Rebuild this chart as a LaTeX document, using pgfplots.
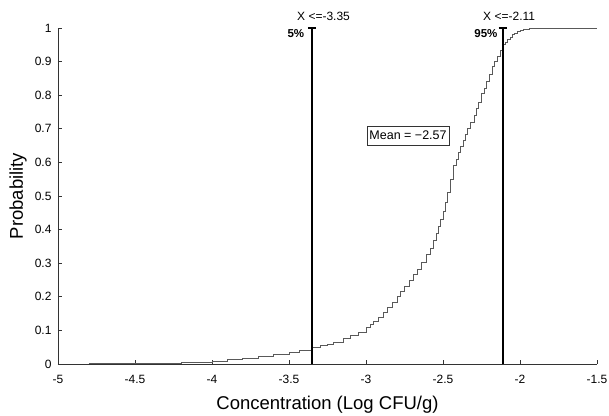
\documentclass[border=0pt]{standalone}
\usepackage{fontspec}
\setmainfont{Liberation Sans}
\usepackage{pgfplots}
\pgfplotsset{compat=1.18}
\begin{document}
\begin{tikzpicture}
\useasboundingbox (-58bp,-52bp) rectangle (551bp,364bp);
\begin{axis}[
  at={(0,0)}, anchor=south west,
  scale only axis, width=539bp, height=336bp,
  xmin=-5, xmax=-1.5, ymin=0, ymax=1,
  axis lines=left, axis line style={-, black!80, line width=0.8bp},
  tick align=inside, major tick length=4bp,
  tick style={black!80, line width=0.6bp},
  xtick={-5,-4.5,...,-1.5}, ytick={0,0.1,...,1},
  /pgf/number format/assume math mode=true,
  /pgf/number format/fixed,
  ticklabel style={font=\fontsize{12bp}{14bp}\selectfont},
  xticklabel style={yshift=-8bp},
  yticklabel style={xshift=-3bp},
  xlabel={Concentration (Log CFU/g)},
  ylabel={Probability},
  label style={font=\fontsize{18.5bp}{21bp}\selectfont},
  xlabel style={at={(axis description cs:0.5,-0.122)}, anchor=center},
  ylabel style={at={(axis description cs:-0.074,0.5)}, anchor=center, rotate=0},
  clip=false,
]
\addplot[const plot, black!65, line width=0.6bp] coordinates {
(-4.8,0.001) (-4.6,0.002) (-4.4,0.003) (-4.2,0.005) (-4.0,0.009)
(-3.9,0.013) (-3.8,0.018) (-3.7,0.024) (-3.6,0.029) (-3.5,0.036)
(-3.43,0.042) (-3.35,0.050) (-3.3,0.055) (-3.25,0.060) (-3.21,0.066)
(-3.15,0.075) (-3.1,0.085) (-3.05,0.095) (-3.0,0.108) (-2.97,0.118)
(-2.95,0.128) (-2.92,0.140) (-2.89,0.155) (-2.86,0.170) (-2.83,0.185)
(-2.80,0.200) (-2.78,0.215) (-2.75,0.232) (-2.72,0.250) (-2.69,0.266)
(-2.67,0.282) (-2.64,0.302) (-2.61,0.325) (-2.585,0.345) (-2.56,0.368)
(-2.545,0.388) (-2.53,0.41) (-2.515,0.432) (-2.50,0.455) (-2.485,0.48)
(-2.47,0.51) (-2.45,0.55) (-2.43,0.59) (-2.415,0.61) (-2.40,0.63)
(-2.385,0.648) (-2.37,0.665) (-2.355,0.683) (-2.34,0.70) (-2.32,0.72)
(-2.30,0.74) (-2.285,0.76) (-2.27,0.78) (-2.25,0.805) (-2.235,0.822)
(-2.22,0.84) (-2.20,0.862) (-2.18,0.885) (-2.165,0.90) (-2.15,0.915)
(-2.13,0.935) (-2.11,0.95) (-2.095,0.958) (-2.08,0.965) (-2.065,0.973)
(-2.05,0.98) (-2.035,0.985) (-2.02,0.99) (-2.0,0.994) (-1.98,0.997)
(-1.94,1.0) (-1.5,1.0)
};
\addplot[black, line width=2.8bp] coordinates {(-3.35,0) (-3.35,1)};
\addplot[black, line width=1.6bp] coordinates {(-3.378,1) (-3.322,1)};
\addplot[black, line width=2.8bp] coordinates {(-2.11,0) (-2.11,1)};
\addplot[black, line width=1.6bp] coordinates {(-2.138,1) (-2.082,1)};
\node[anchor=west, inner sep=0pt, font=\fontsize{12bp}{14bp}\selectfont] at (axis cs:-3.448,1.036) {X <=-3.35};
\node[anchor=west, inner sep=0pt, font=\fontsize{12bp}{14bp}\selectfont] at (axis cs:-2.240,1.036) {X <=-2.11};
\node[anchor=east, inner sep=0pt, font=\bfseries\fontsize{11.5bp}{14bp}\selectfont] at (axis cs:-3.40,0.984) {5\%};
\node[anchor=east, inner sep=0pt, font=\bfseries\fontsize{11.5bp}{14bp}\selectfont] at (axis cs:-2.145,0.984) {95\%};
\node[draw=black!80, fill=white, line width=0.6bp, inner xsep=2.5bp, inner ysep=5bp, font=\fontsize{12.5bp}{14bp}\selectfont] at (axis cs:-2.727,0.68) {Mean = −2.57};
\end{axis}
\end{tikzpicture}
\end{document}
